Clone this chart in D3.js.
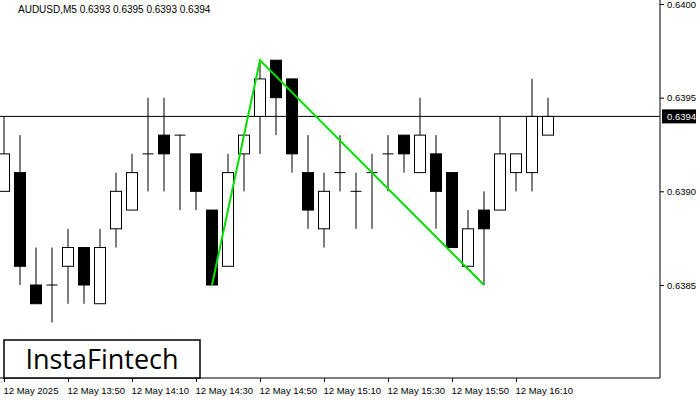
<!DOCTYPE html>
<html><head><meta charset="utf-8">
<script src="https://cdn.jsdelivr.net/npm/d3@7"></script>
<style>body{margin:0;background:#fff}svg{font-family:"Liberation Sans",Arial,sans-serif}</style>
</head><body><div id="chart"></div>
<script>
// candles in pips above 0.6300: open, high, low, close
const opens  = [90,91,85,85,86,87,84,88,89,92,93,93,92,89,86,92,94,97,96,91,88,91,90,91,92,93,91,92,91,86,89,89,91,91,93];
const highs  = [94,93,87,87,88,87,88,91,92,95,95,93,92,89,92,93,97,97,96,93,91,93,91,92,93,93,95,93,91,89,90,94,92,96,95];
const lows   = [90,85,84,83,84,84,84,87,89,90,90,89,89,85,86,90,92,93,91,88,87,90,88,88,90,91,91,88,87,86,85,89,90,90,93];
const closes = [92,86,84,85,87,85,87,90,91,92,92,93,90,85,91,93,96,95,92,89,90,91,90,91,92,92,93,90,87,88,88,92,92,94,94];
const timeLabels = ["12 May 2025","12 May 13:50","12 May 14:10","12 May 14:30","12 May 14:50","12 May 15:10","12 May 15:30","12 May 15:50","12 May 16:10"];
const priceTicks = [0.6385, 0.6390, 0.6395, 0.6400];
const lastPrice = 0.6394;
const pattern = [{i:13, p:0.6385},{i:16, p:0.6397},{i:30, p:0.6385}];

const W = 700, H = 400, plotR = 660, plotB = 378;
const FONT = '"Liberation Sans",Arial,sans-serif';
const svg = d3.select('#chart').append('svg').attr('width', W).attr('height', H);
const x = d3.scaleLinear().domain([0, 1]).range([4, 20]);
const y = d3.scaleLinear().domain([0.6385, 0.6400]).range([285, 4]);
const pr = v => 0.63 + v / 10000;

// price line
svg.append('line').attr('x1', 0).attr('x2', plotR).attr('y1', y(lastPrice)).attr('y2', y(lastPrice)).attr('stroke', '#000');

const data = opens.map((o, i) => ({i, o: pr(o), h: pr(highs[i]), l: pr(lows[i]), c: pr(closes[i])}));
const g = svg.append('g');
g.selectAll('line.w').data(data).join('line')
  .attr('x1', d => x(d.i)).attr('x2', d => x(d.i))
  .attr('y1', d => y(d.h)).attr('y2', d => y(d.l)).attr('stroke', '#000');
g.selectAll('rect').data(data.filter(d => d.o !== d.c)).join('rect')
  .attr('x', d => x(d.i) - 5.5).attr('width', 11)
  .attr('y', d => y(Math.max(d.o, d.c))).attr('height', d => Math.abs(y(d.o) - y(d.c)))
  .attr('fill', d => d.c > d.o ? '#fff' : '#000').attr('stroke', '#000');
g.selectAll('line.d').data(data.filter(d => d.o === d.c)).join('line')
  .attr('x1', d => x(d.i) - 5.5).attr('x2', d => x(d.i) + 5.5)
  .attr('y1', d => y(d.c)).attr('y2', d => y(d.c)).attr('stroke', '#000');

svg.append('path').datum(pattern)
  .attr('d', d3.line().x(d => x(d.i)).y(d => y(d.p)))
  .attr('fill', 'none').attr('stroke', '#00e000').attr('stroke-width', 2);

// axes
const ya = svg.append('g').attr('transform', `translate(${plotR},0)`)
  .call(d3.axisRight(y).tickValues(priceTicks).tickFormat(d3.format('.4f')).tickSize(4));
ya.select('.domain').attr('d', `M0,0V${plotB}`);
ya.selectAll('text').attr('font-size', 9.5).attr('font-family', FONT).attr('x', 7);
const lp = svg.append('g').attr('transform', `translate(${plotR},${y(lastPrice)})`);
lp.append('rect').attr('x', 2).attr('y', -7).attr('width', 34).attr('height', 14).attr('fill', '#000');
lp.append('text').attr('x', 7).attr('y', 3.5).attr('fill', '#fff').attr('font-size', 9.5).attr('font-family', FONT).text(d3.format('.4f')(lastPrice));

const xa = svg.append('g').attr('transform', `translate(0,${plotB})`)
  .call(d3.axisBottom(x).tickValues(timeLabels.map((t, k) => k * 4)).tickFormat((d, k) => timeLabels[k]).tickSize(4));
xa.select('.domain').attr('d', `M0,0H${plotR}`);
xa.selectAll('text').attr('font-size', 9.5).attr('font-family', FONT)
  .attr('text-anchor', 'start').attr('x', -1).attr('dy', '0.9em');

svg.append('text').attr('x', 18).attr('y', 13).attr('font-size', 10).attr('font-family', FONT).text('AUDUSD,M5  0.6393 0.6395 0.6393 0.6394');

// logo
svg.append('rect').attr('x', 4).attr('y', 340).attr('width', 196).attr('height', 38).attr('fill', '#fff').attr('stroke', '#000').attr('stroke-width', 1.5);
svg.append('text').attr('x', 102).attr('y', 369).attr('text-anchor', 'middle').attr('font-size', 27)
  .attr('font-family', '"Open Sans","DejaVu Sans",sans-serif').text('InstaFintech');
</script></body></html>
